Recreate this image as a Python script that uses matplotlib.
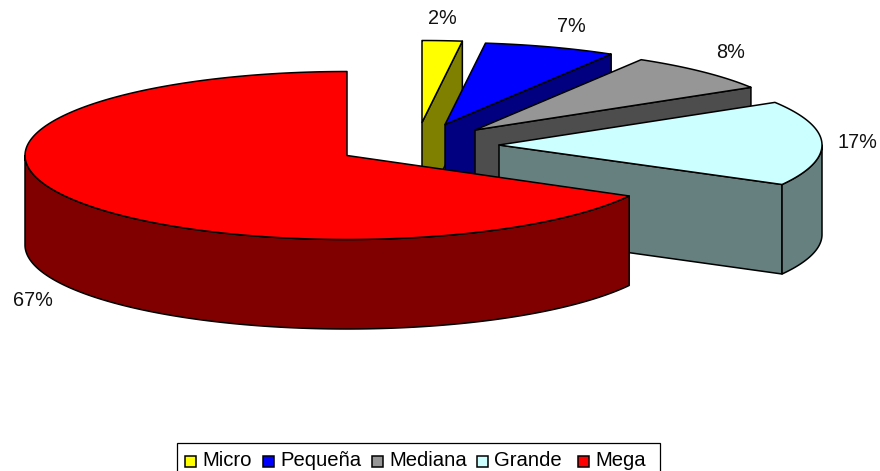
import numpy as np
import matplotlib
matplotlib.use('Agg')
import matplotlib.pyplot as plt
from matplotlib.patches import Polygon, Rectangle

# data (the labels show them rounded)
categories = ['Micro', 'Pequeña', 'Mediana', 'Grande', 'Mega']
shares = [2.0, 6.6, 7.7, 16.7, 67.0]

top_colors = ['#ffff00', '#0000ff', '#969696', '#ccffff', '#ff0000']
side_colors = ['#808000', '#000080', '#4d4d4d', '#668080', '#800000']

# layout in pixels
apex = [(422, 122.5), (445, 124.5), (475, 130), (499, 145), (347, 155.5)]
rx = [322, 323, 323, 323, 322]
ry = [82, 82, 82, 82, 84]
depth = 89.5
label_pos = [(442, 18), (571, 26), (731, 52), (857, 143), (33, 301)]
legend_x = [185, 263, 372, 477, 578]

plt.rcParams['font.family'] = ['Liberation Sans', 'DejaVu Sans']

fig = plt.figure(figsize=(8.8, 4.71), dpi=100)
ax = fig.add_axes([0, 0, 1, 1])
ax.set_xlim(0, 880)
ax.set_ylim(471, 0)
ax.axis('off')


def arc(cx, cy, a, b, t0, t1):
    t = np.radians(np.linspace(t0, t1, 200))
    return np.column_stack((cx + a*np.sin(t), cy - b*np.cos(t)))


def draw_slice(i, t0, t1):
    cx, cy = apex[i]
    a, b = rx[i], ry[i]
    drop = np.array([0, depth])

    # cut face on the clockwise end, seen only when it faces the viewer
    if np.sin(np.radians(t1)) > 0.01:
        p = arc(cx, cy, a, b, t1, t1+1e-6)[0]
        face = [(cx, cy), p, p+drop, (cx, cy+depth)]
        ax.add_patch(Polygon(face, fc=side_colors[i], ec='k', lw=1.1, joinstyle='round'))

    # outer rim, front half only
    lo, hi = max(t0, 90), min(t1, 270)
    if hi > lo:
        rim = arc(cx, cy, a, b, lo, hi)
        ax.add_patch(Polygon(np.vstack((rim, rim[::-1]+drop)), fc=side_colors[i],
                             ec='k', lw=1.1, joinstyle='round'))

    top = np.vstack(([(cx, cy)], arc(cx, cy, a, b, t0, t1)))
    ax.add_patch(Polygon(top, fc=top_colors[i], ec='k', lw=1.1, joinstyle='round'))


cum = np.cumsum([0] + shares) / sum(shares) * 360
for i in range(len(shares)):
    draw_slice(i, cum[i], cum[i+1])
    ax.text(label_pos[i][0], label_pos[i][1], f'{shares[i]:.0f}%', fontsize=14.3,
            ha='center', va='center', color='#111111')

# legend box, cut by the bottom of the picture
ax.add_patch(Rectangle((176.5, 442.5), 483.5, 40, fc='white', ec='k', lw=0.9))
for i, name in enumerate(categories):
    ax.add_patch(Rectangle((legend_x[i], 455.5), 11, 11, fc=top_colors[i], ec='k', lw=1.1))
    ax.text(legend_x[i]+17, 460.5, name, fontsize=14.6, ha='left', va='center', color='k')

fig.savefig('out.png', dpi=100)
